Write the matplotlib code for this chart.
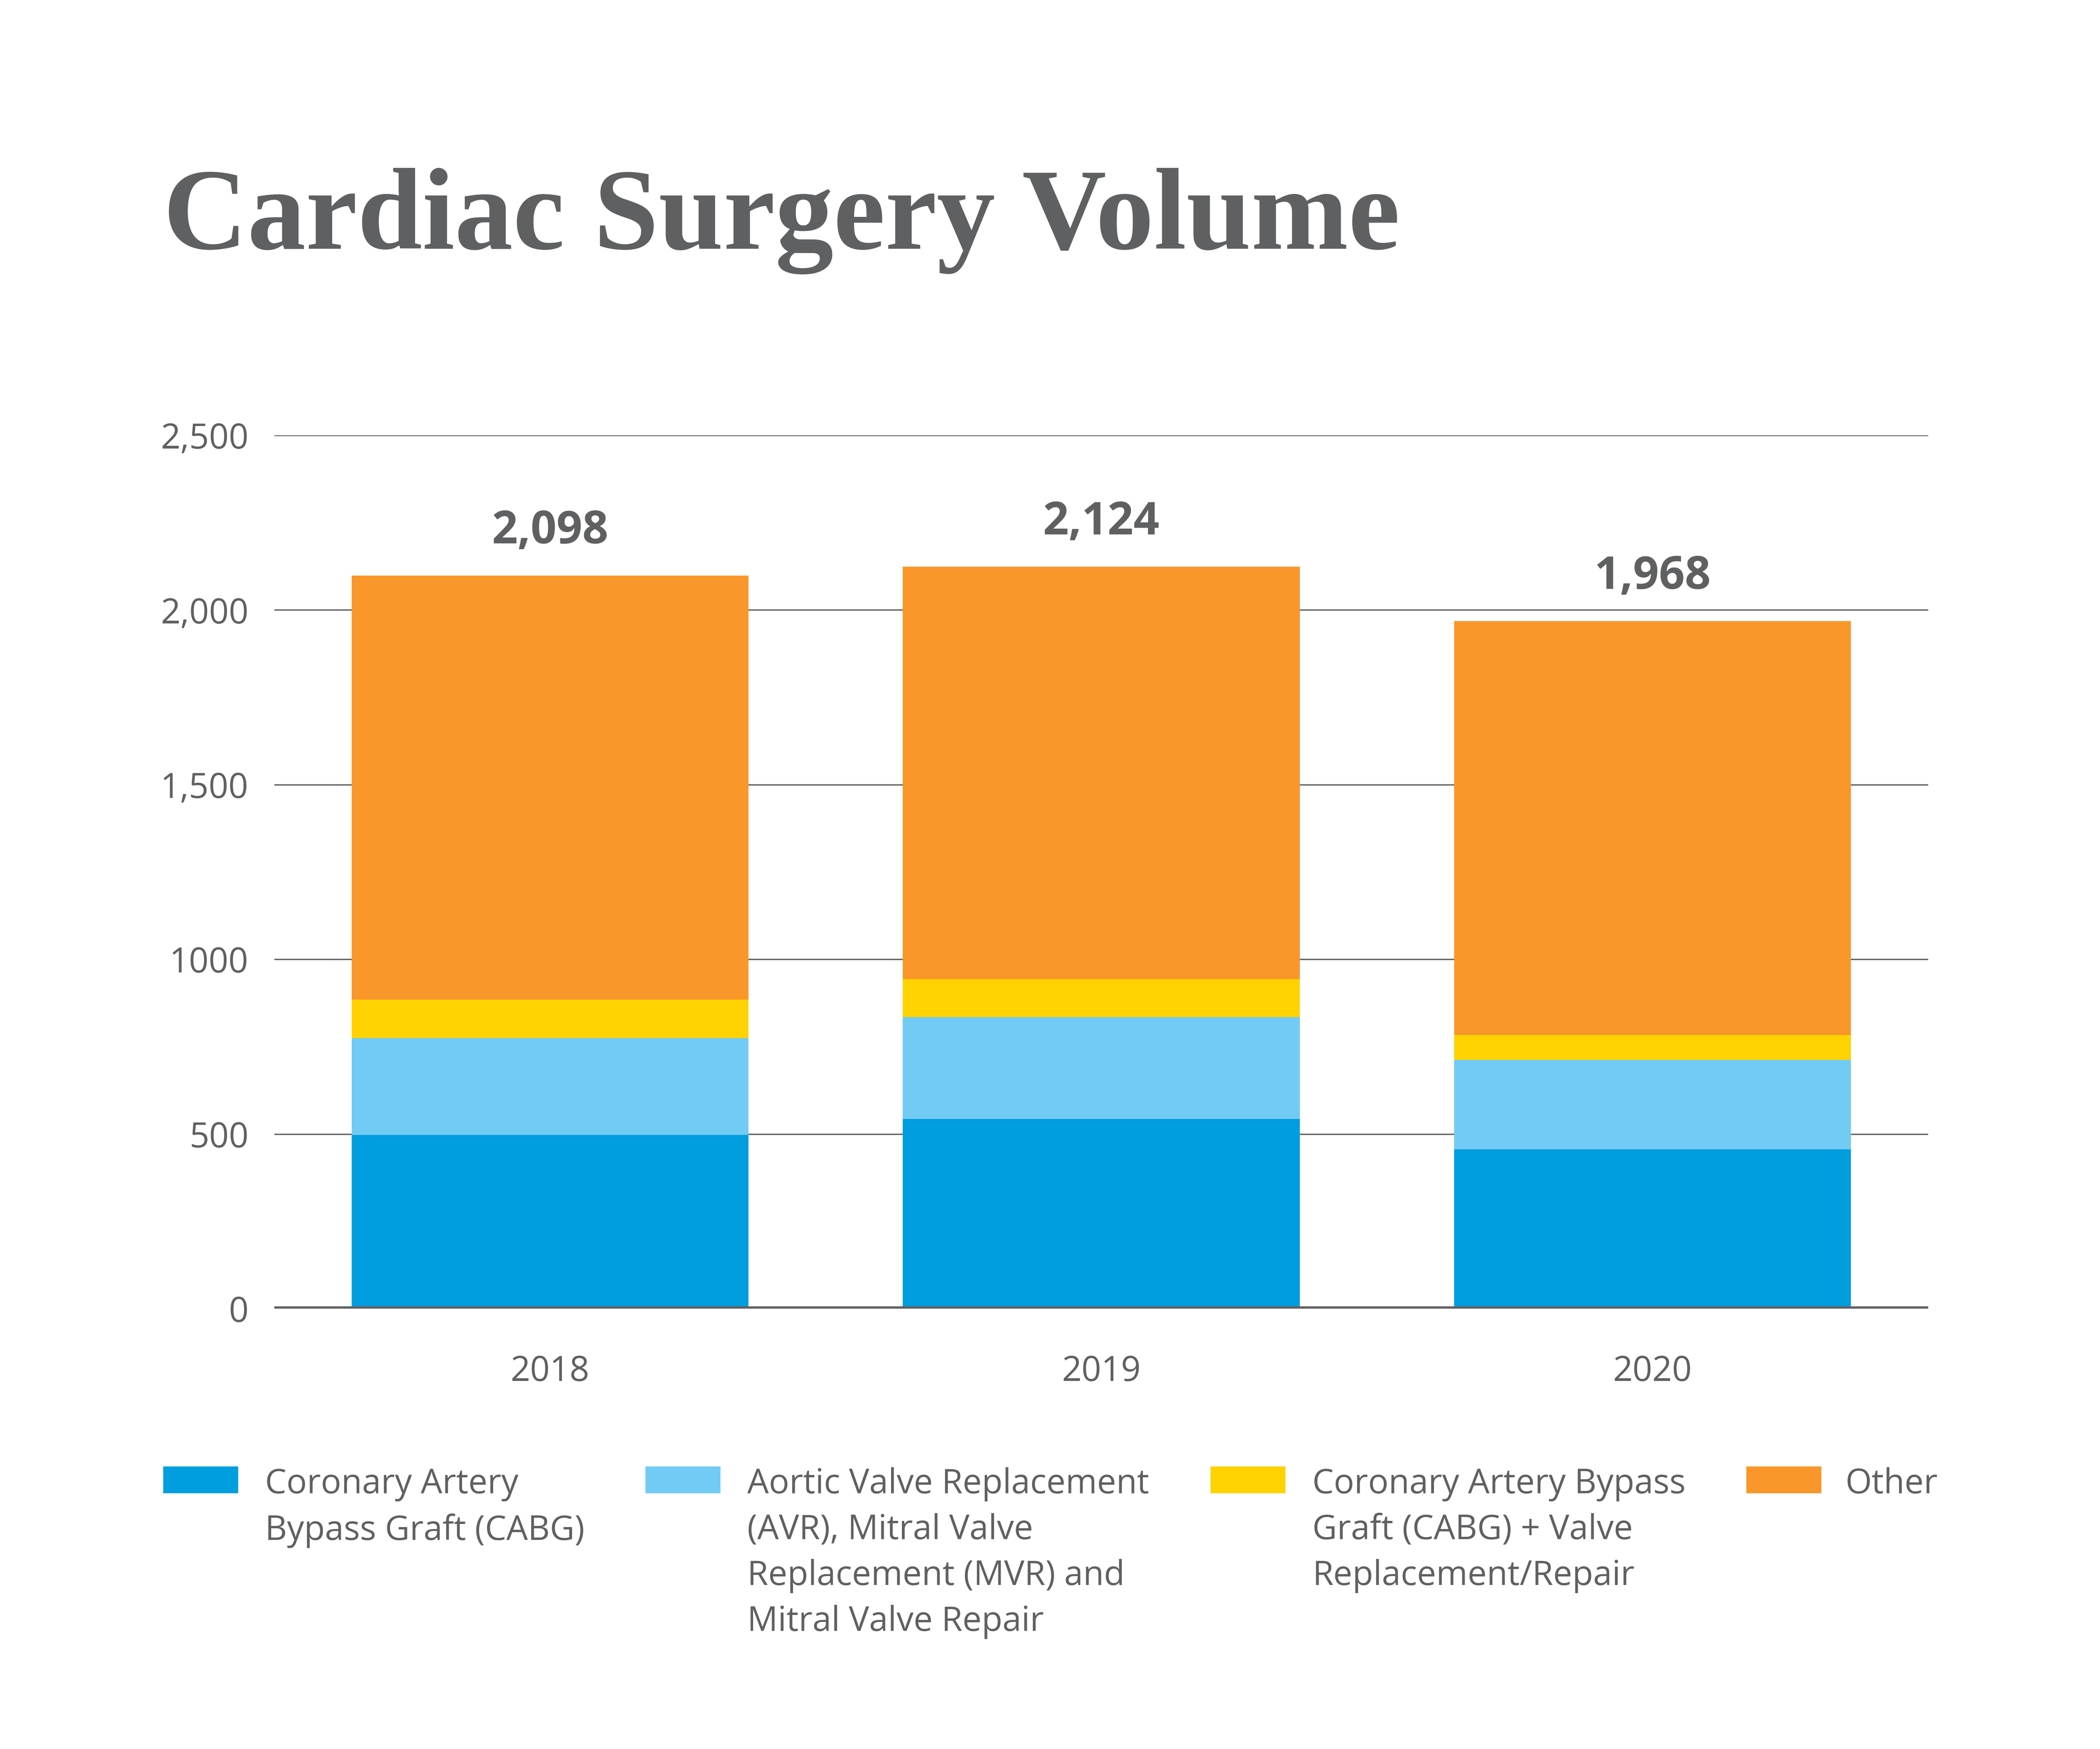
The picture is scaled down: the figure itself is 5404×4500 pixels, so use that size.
import numpy as np
import matplotlib
matplotlib.use("Agg")
import matplotlib.pyplot as plt
from matplotlib.patches import Rectangle

# ------------------ DATA ------------------
years = ["2018", "2019", "2020"]
totals = [2098, 2124, 1968]
cabg = [497, 543, 456]
avr_mvr = [277, 291, 256]
cabg_valve = [110, 109, 71]
other = [1214, 1181, 1185]

series_labels = [
    "Coronary Artery\nBypass Graft (CABG)",
    "Aortic Valve Replacement\n(AVR), Mitral Valve\nReplacement (MVR) and\nMitral Valve Repair",
    "Coronary Artery Bypass\nGraft (CABG) + Valve\nReplacement/Repair",
    "Other",
]
y_ticks = [0, 500, 1000, 1500, 2000, 2500]
y_tick_labels = ["0", "500", "1000", "1,500", "2,000", "2,500"]
# ------------------------------------------

colors = ["#009EDE", "#72CBF4", "#FFD200", "#F9972A"]
gray = "#5F6062"
sans = ["Open Sans", "DejaVu Sans"]

fig = plt.figure(figsize=(54.04, 45), dpi=100)
ax = fig.add_axes([0.1307, 0.2518, 0.7875, 0.4993])

x = np.arange(len(years))
width = 0.72
bottom = np.zeros(len(years))
for vals, c in zip([cabg, avr_mvr, cabg_valve, other], colors):
    ax.bar(x, vals, width, bottom=bottom, color=c, zorder=3, linewidth=0)
    bottom += np.array(vals)

# totals above the bars
for xi, t in zip(x, totals):
    ax.annotate(f"{t:,}", (xi, t), xytext=(0, 60), textcoords="offset points",
                ha="center", va="baseline", fontsize=84, fontweight="bold",
                color=gray, family=sans)

ax.set_xlim(-0.5, 2.5)
ax.set_ylim(0, 2500)
ax.set_yticks(y_ticks)
ax.set_yticklabels(y_tick_labels)
ax.set_xticks(x)
ax.set_xticklabels(years)
ax.tick_params(axis="both", length=0, labelsize=64, labelcolor=gray)
ax.tick_params(axis="y", pad=48)
ax.tick_params(axis="x", pad=85)
for lab in ax.get_xticklabels() + ax.get_yticklabels():
    lab.set_family(sans)

ax.yaxis.grid(True, color=gray, linewidth=2.5, zorder=0)
ax.axhline(0, color=gray, linewidth=8.5, zorder=4)
for s in ax.spines.values():
    s.set_visible(False)

fig.text(0.0777, 1 - 640 / 4500, "Cardiac Surgery Volume", fontsize=216,
         fontweight="bold", color=gray, family=["Liberation Serif", "DejaVu Serif"],
         ha="left", va="baseline")

# legend, drawn by hand in figure coordinates
patch_x = [420, 1661, 3115, 4494]
text_x = [682, 1923, 3377, 4749]
for px, tx, lab, c in zip(patch_x, text_x, series_labels, colors):
    fig.add_artist(Rectangle((px / 5404, 1 - 3842 / 4500), 193 / 5404, 69 / 4500,
                             transform=fig.transFigure, color=c, linewidth=0))
    fig.text(tx / 5404, 1 - 3775 / 4500, lab, fontsize=63, color=gray,
             family=sans, ha="left", va="top", linespacing=1.45)

fig.savefig("out.png", dpi=100, facecolor="white")
